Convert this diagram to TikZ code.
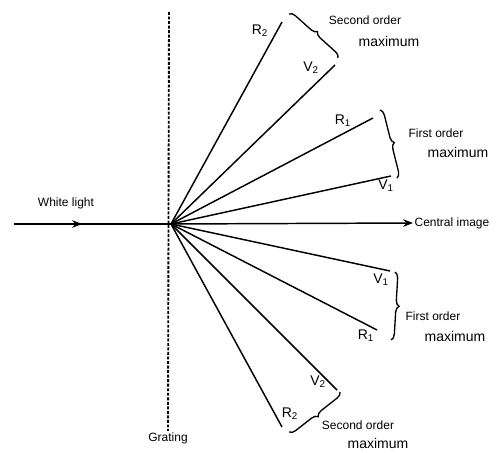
\documentclass[tikz,border=0pt]{standalone}
\usepackage{fontspec}
\setmainfont{Liberation Sans}
\usetikzlibrary{positioning,arrows.meta,decorations.pathreplacing}

\begin{document}
\begin{tikzpicture}[x=0.75pt,y=-0.75pt,>={Stealth[length=2.6mm,width=2mm]},
  ray/.style={line width=1.1pt},
  lbl/.style={font=\fontsize{9}{10}\selectfont,inner sep=1pt},
  rvlbl/.style={font=\fontsize{10.5}{12}\selectfont,inner sep=1pt},
  maxlbl/.style={font=\fontsize{10.5}{12}\selectfont,inner sep=1pt},
  brc/.style={decorate,decoration={brace,amplitude=4.5pt},line width=1pt}]
\useasboundingbox (0,0) rectangle (501,453);
\coordinate (O) at (171,224);
% grating
\node[lbl] (grating) at (168,438) {Grating};
\coordinate (gtop) at (169,12);
\draw[line width=1.4pt,dash pattern=on 2.2pt off 1.2pt] (gtop) -- (grating.north);
% white light and central image
\coordinate (src) at (14,224);
\coordinate (wl) at (82,224);
\node[lbl] (white) at (66,203) {White light};
\node[lbl,anchor=west] (central) at (413,223) {Central image};
\draw[ray] (src) -- (O);
\draw[ray,->] (src) -- (wl);
\draw[ray,->] (O) -- (central.west);
% diffracted rays
\coordinate (R2u) at (282,22);
\coordinate (V2u) at (335,65);
\coordinate (R1u) at (373,118);
\coordinate (V1u) at (391,176);
\coordinate (V1d) at (390,271);
\coordinate (R1d) at (377,330);
\coordinate (V2d) at (337,390);
\coordinate (R2d) at (282,427);
\foreach \e in {R2u,V2u,R1u,V1u,V1d,R1d,V2d,R2d}
  \draw[ray] (O) -- (\e);
% ray labels
\node[rvlbl] (lR2u) at (260,31) {R\textsubscript{2}};
\node[rvlbl] (lV2u) at (311,68) {V\textsubscript{2}};
\node[rvlbl] (lR1u) at (343,121) {R\textsubscript{1}};
\node[rvlbl] (lV1u) at (386,186) {V\textsubscript{1}};
\node[rvlbl] (lV1d) at (381,280) {V\textsubscript{1}};
\node[rvlbl] (lR1d) at (366,336) {R\textsubscript{1}};
\node[rvlbl] (lV2d) at (318,382) {V\textsubscript{2}};
\node[rvlbl] (lR2d) at (290,414) {R\textsubscript{2}};
% braces
\coordinate (b2ua) at (289,14);  \coordinate (b2ub) at (338,58);
\coordinate (b1ua) at (380,110); \coordinate (b1ub) at (397,178);
\coordinate (b1da) at (395,272); \coordinate (b1db) at (391,340);
\coordinate (b2da) at (340,392); \coordinate (b2db) at (289,432);
\draw[brc] (b2ua) -- (b2ub);
\draw[brc] (b1ua) -- (b1ub);
\draw[brc] (b1da) -- (b1db);
\draw[brc] (b2da) -- (b2db);
% order texts
\node[lbl] (ord2u) at (365,20) {Second order};
\node[maxlbl] (max2u) at (389,41) {maximum};
\node[lbl] (ord1u) at (436,133) {First order};
\node[maxlbl] (max1u) at (458,152) {maximum};
\node[lbl] (ord1d) at (433,316) {First order};
\node[maxlbl] (max1d) at (455,336) {maximum};
\node[lbl] (ord2d) at (358,425) {Second order};
\node[maxlbl] (max2d) at (378,443) {maximum};
\end{tikzpicture}
\end{document}
